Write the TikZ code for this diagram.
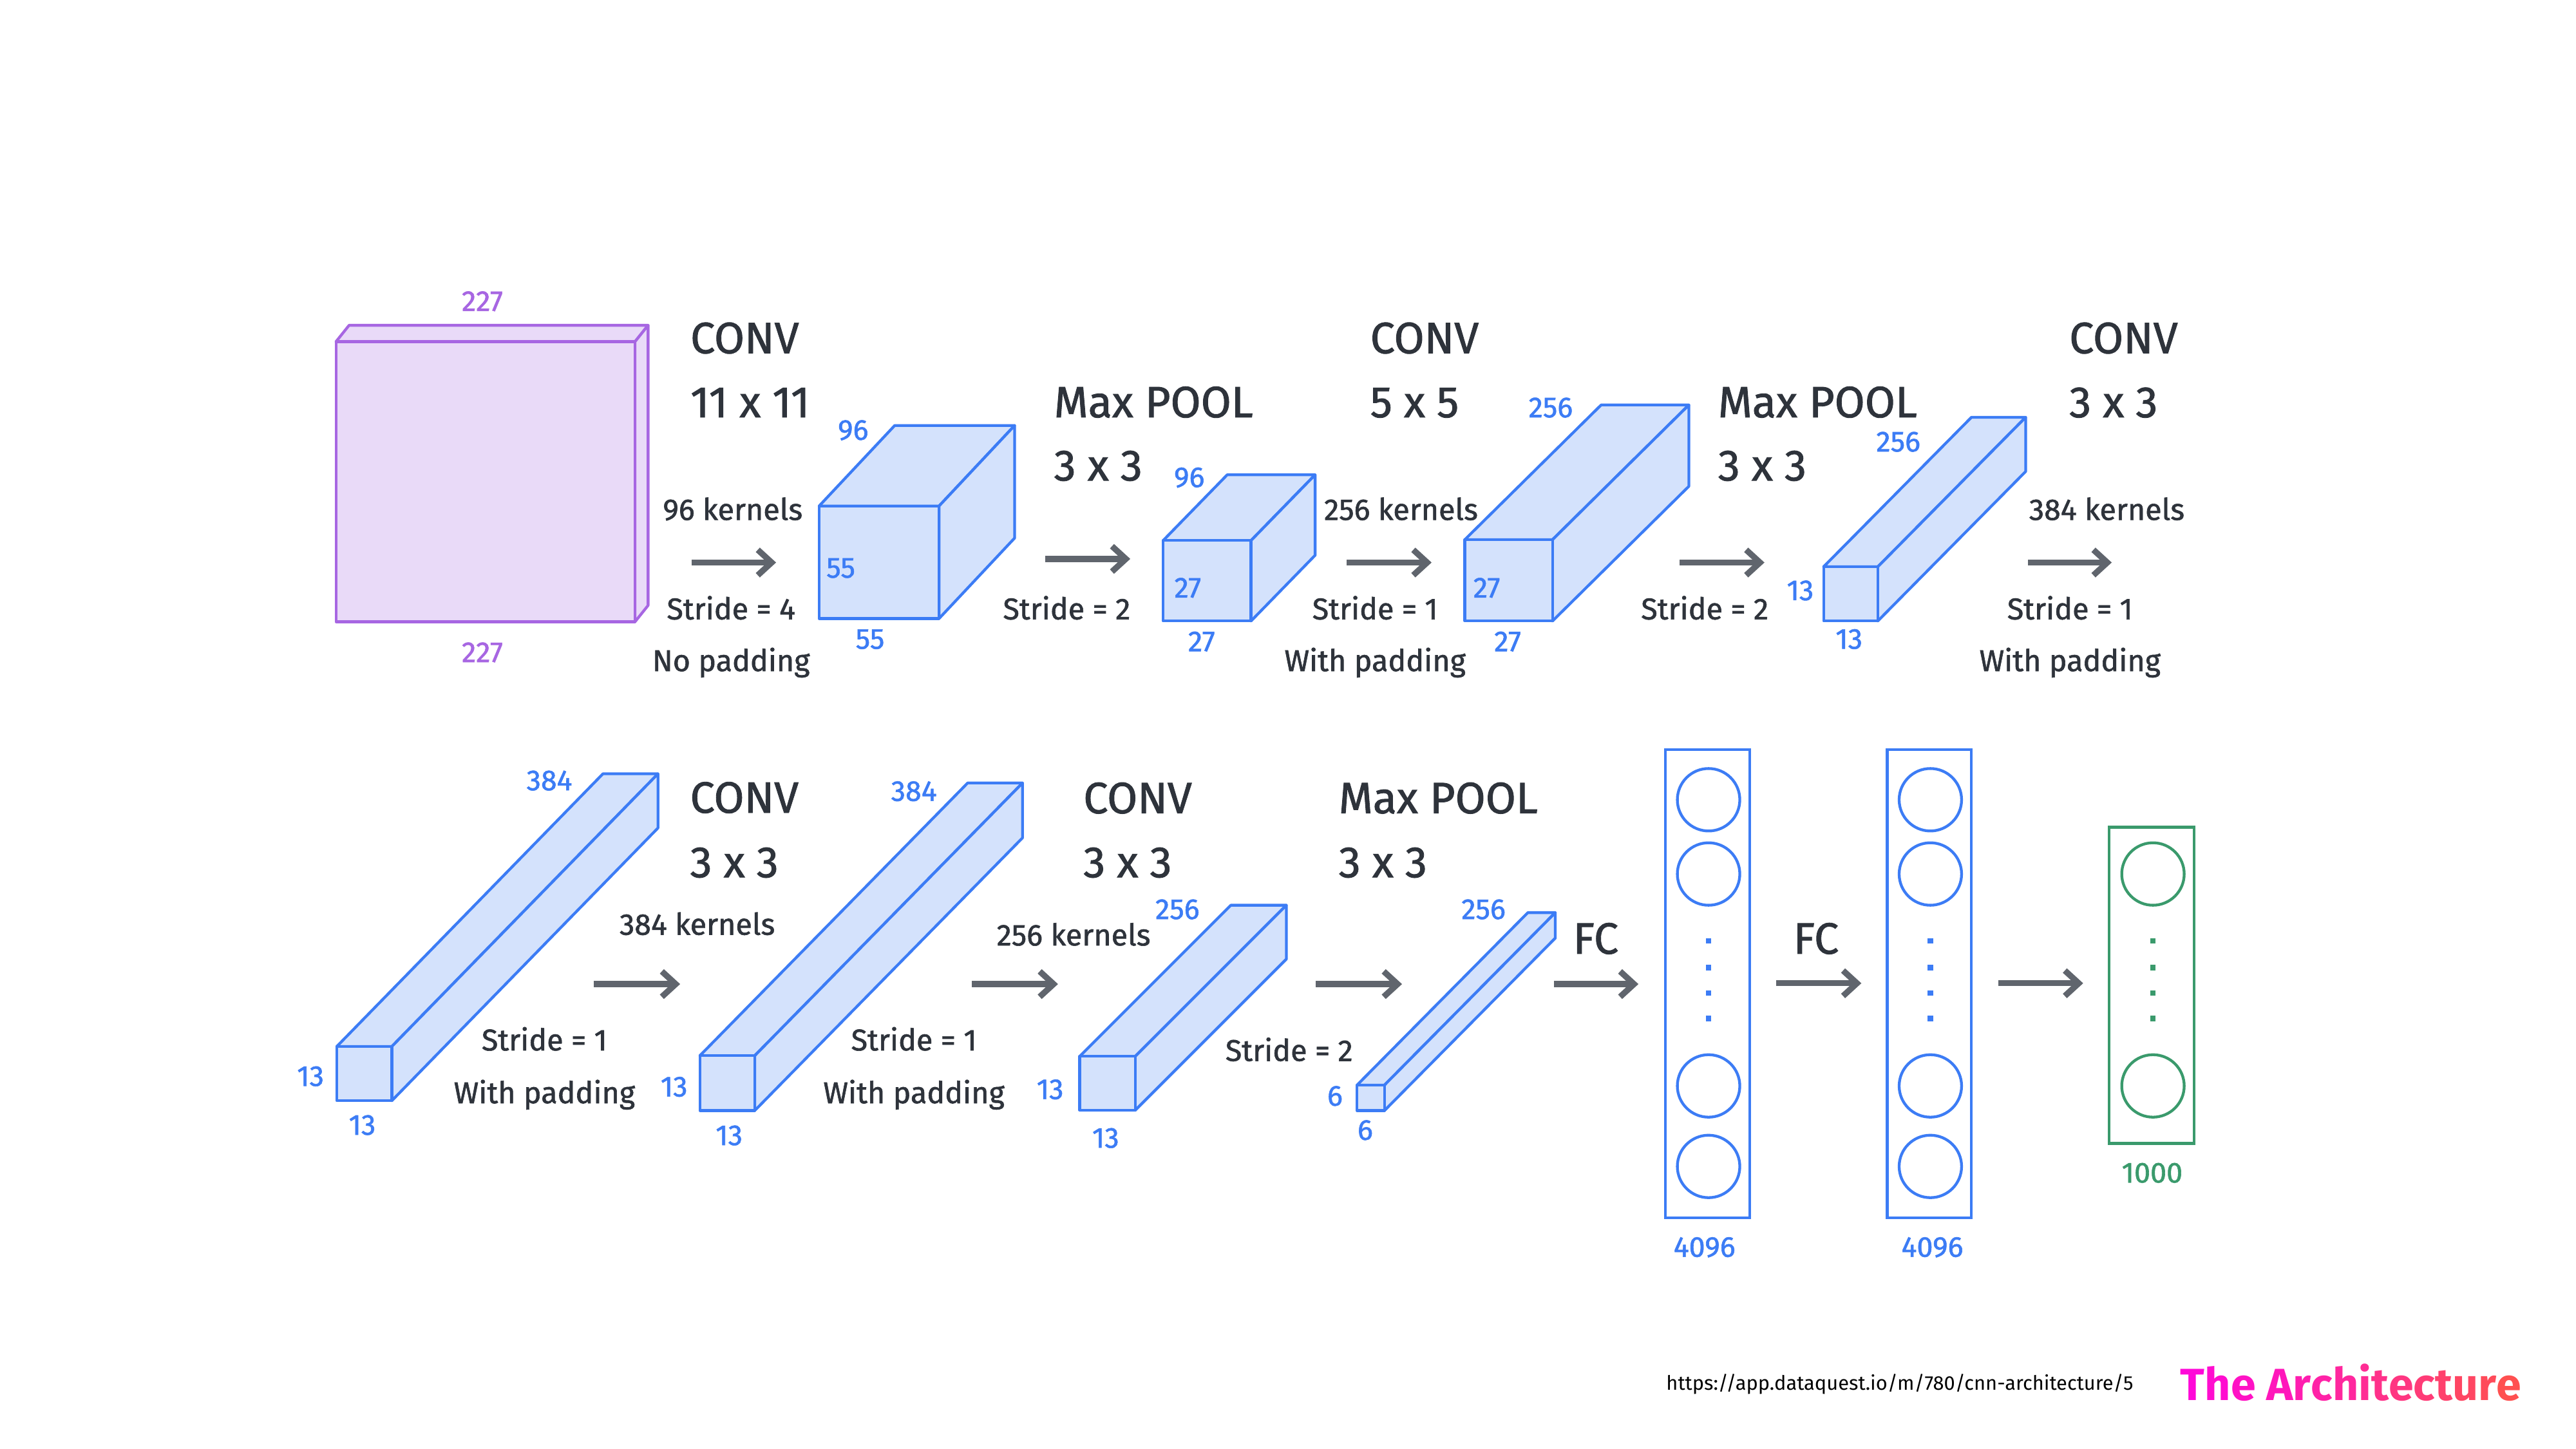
\documentclass[tikz,border=0pt]{standalone}
\usepackage{fontspec}
\setmainfont{Fira Sans}
\newfontfamily\semib{Fira Sans}[FakeBold=1.3]
\usepackage{graphicx}
\usetikzlibrary{arrows.meta}
\definecolor{txt}{HTML}{2E333B}
\definecolor{blu}{HTML}{3C7CF5}
\definecolor{bluf}{HTML}{D4E2FC}
\definecolor{pur}{HTML}{A766E2}
\definecolor{purf}{HTML}{E9DAF8}
\definecolor{grn}{HTML}{3A9A6C}
\definecolor{arrc}{HTML}{60656D}
\definecolor{gstart}{HTML}{FF08D8}
\definecolor{gend}{HTML}{FF5050}
\newcommand\drawcuboid[8]{%
  \filldraw[#8] (#1,#2) -- ++(#5,-#6) -- ++(#3,0) -- ++(-#5,#6) -- cycle;
  \filldraw[#8] (#1+#3,#2) -- ++(#5,-#6) -- ++(0,#4) -- ++(-#5,#6) -- cycle;
  \filldraw[#8] (#1,#2) rectangle ++(#3,#4);
  \coordinate (#7) at (#1,#2);}
\newcommand\gl[2]{\textcolor{gend!#1!gstart}{#2}}
\tikzset{
  cube/.style={draw=blu, fill=bluf, line width=1.2pt, line join=round},
  slab/.style={draw=pur, fill=purf, line width=1.2pt, line join=round},
  big/.style={font=\semib\fontsize{19}{22}\selectfont, text=txt, inner sep=0pt, anchor=base west},
  small/.style={font=\semib\fontsize{13}{15}\selectfont, text=txt, inner sep=0pt, anchor=base},
  num/.style={font=\semib\fontsize{12.5}{14}\selectfont, text=blu, inner sep=0pt, anchor=base},
  flow/.style={draw=arrc, line width=2.6pt, -{Straight Barb[length=6pt,width=11pt]}},
  fcbox/.style={draw=blu, line width=1.2pt, minimum width=1.28cm, minimum height=7.12cm, inner sep=0pt},
  outbox/.style={draw=grn, line width=1.2pt, minimum width=1.29cm, minimum height=4.81cm, inner sep=0pt},
  neuron/.style={circle, draw=blu, line width=1.2pt, minimum size=0.95cm, inner sep=0pt},
  oneuron/.style={circle, draw=grn, line width=1.2pt, minimum size=0.95cm, inner sep=0pt},
}
\begin{document}
\begin{tikzpicture}[x=0.025cm, y=-0.025cm]
\useasboundingbox[fill=white] (0,0) rectangle (1568,882);

% ---------- row 1 ----------
% input slab
\drawcuboid{204.5}{208}{182}{170.5}{8}{10}{in}{slab}
\node[num, text=pur] (in227t) at (293.6,189.3) {227};
\node[num, text=pur] (in227b) at (293.6,403) {227};

\node[big] (c1a) at (420,215) {CONV};
\node[big] (c1b) at (420,254) {11 x 11};
\node[small] (c1k) at (446,316.5) {96 kernels};
\node[small] (c1s) at (445,377) {Stride = 4};
\node[small] (c1p) at (445,408.5) {No padding};
\coordinate (a1s) at (421,342.4); \coordinate (a1e) at (472.4,342.4);
\draw[flow] (a1s) -- (a1e);

% cube 1
\drawcuboid{498.6}{308}{73}{68.5}{46}{49}{k1}{cube}
\node[num] (k1d) at (519.3,267.7) {96};
\node[num] (k1h) at (511.8,351.6) {55};
\node[num] (k1w) at (529.6,394.9) {55};

\node[big] (p1a) at (641.3,254) {Max POOL};
\node[big] (p1b) at (641.3,292.5) {3 x 3};
\node[small] (p1s) at (649.3,377) {Stride = 2};
\coordinate (a2s) at (636.3,340.2); \coordinate (a2e) at (688,340.2);
\draw[flow] (a2s) -- (a2e);

% cube 2
\drawcuboid{708}{329}{53.5}{49}{39}{40}{k2}{cube}
\node[num] (k2d) at (723.9,296.5) {96};
\node[num] (k2h) at (723,363.7) {27};
\node[num] (k2w) at (731.4,396.4) {27};

\node[big] (c2a) at (833.8,215) {CONV};
\node[big] (c2b) at (833.8,254) {5 x 5};
\node[small] (c2k) at (852.8,316.5) {256 kernels};
\node[small] (c2s) at (837,377) {Stride = 1};
\node[small] (c2p) at (837,408.5) {With padding};
\coordinate (a3s) at (819.7,342.4); \coordinate (a3e) at (871.4,342.4);
\draw[flow] (a3s) -- (a3e);

% cube 3
\drawcuboid{891.6}{328.5}{53.4}{49.5}{83}{82}{k3}{cube}
\node[num] (k3d) at (943.9,254) {256};
\node[num] (k3h) at (905,363.7) {27};
\node[num] (k3w) at (917.7,396.4) {27};

\node[big] (p2a) at (1045.5,254) {Max POOL};
\node[big] (p2b) at (1045.5,292.5) {3 x 3};
\node[small] (p2s) at (1037.7,377) {Stride = 2};
\coordinate (a4s) at (1022.4,342.4); \coordinate (a4e) at (1074,342.4);
\draw[flow] (a4s) -- (a4e);

% cube 4
\drawcuboid{1110}{345}{33}{33}{90}{91}{k4}{cube}
\node[num] (k4d) at (1155.5,274.8) {256};
\node[num] (k4h) at (1095.8,365.3) {13};
\node[num] (k4w) at (1125.5,394.9) {13};

\node[big] (c3a) at (1259.3,215) {CONV};
\node[big] (c3b) at (1259.3,254) {3 x 3};
\node[small] (c3k) at (1282.4,316.5) {384 kernels};
\node[small] (c3s) at (1260,377) {Stride = 1};
\node[small] (c3p) at (1260,408.5) {With padding};
\coordinate (a5s) at (1234.4,342.4); \coordinate (a5e) at (1285.4,342.4);
\draw[flow] (a5s) -- (a5e);

% ---------- row 2 ----------
% cube 5
\drawcuboid{205}{637}{33.5}{33}{162}{166}{k5}{cube}
\node[num] (k5d) at (334.4,481) {384};
\node[num] (k5h) at (189,661) {13};
\node[num] (k5w) at (220.5,690.7) {13};

\node[big] (c4a) at (419.8,494.7) {CONV};
\node[big] (c4b) at (419.8,534) {3 x 3};
\node[small] (c4k) at (424.4,569) {384 kernels};
\node[small] (c4s) at (331.4,639.4) {Stride = 1};
\node[small] (c4p) at (331.4,671.5) {With padding};
\coordinate (a6s) at (361.4,599); \coordinate (a6e) at (414,599);
\draw[flow] (a6s) -- (a6e);

% cube 6
\drawcuboid{426}{642.6}{33.4}{33.4}{163}{166}{k6}{cube}
\node[num] (k6d) at (556.3,487.5) {384};
\node[num] (k6h) at (410.3,667.4) {13};
\node[num] (k6w) at (443.8,697) {13};

\node[big] (c5a) at (659.2,495) {CONV};
\node[big] (c5b) at (659.2,534) {3 x 3};
\node[small] (c5k) at (653.5,575.5) {256 kernels};
\node[small] (c5s) at (556.3,639.4) {Stride = 1};
\node[small] (c5p) at (556.3,671.5) {With padding};
\coordinate (a7s) at (591.6,599); \coordinate (a7e) at (644,599);
\draw[flow] (a7s) -- (a7e);

% cube 7
\drawcuboid{657.2}{643}{33.8}{32.8}{92}{92}{k7}{cube}
\node[num] (k7d) at (716.7,559.4) {256};
\node[num] (k7h) at (639.2,669) {13};
\node[num] (k7w) at (673,698.6) {13};

\node[big] (p3a) at (814.6,495) {Max POOL};
\node[big] (p3b) at (814.6,534) {3 x 3};
\node[small] (p3s) at (784.7,645.8) {Stride = 2};
\coordinate (a8s) at (801,599); \coordinate (a8e) at (853.4,599);
\draw[flow] (a8s) -- (a8e);

% cube 8
\drawcuboid{826}{660.5}{16.7}{15.5}{104}{105}{k8}{cube}
\node[num] (k8d) at (903,559.4) {256};
\node[num] (k8h) at (812.6,673) {6};
\node[num] (k8w) at (831,693.8) {6};

\node[big] (fcl1) at (957.2,580.5) {FC};
\coordinate (a9s) at (946,599); \coordinate (a9e) at (997.3,599);
\draw[flow] (a9s) -- (a9e);

% FC layer 1
\node[fcbox] (fc1) at (1039.4,598.7) {};
\node[neuron] (fc1a) at (1040,486.8) {};
\node[neuron] (fc1b) at (1040,532) {};
\node[neuron] (fc1c) at (1040,661) {};
\node[neuron] (fc1d) at (1040,710) {};
\foreach \yy in {572.7,589,604.4,620} \fill[blu] (1040,\yy) +(-1.7,-1.7) rectangle +(1.7,1.7);
\node[num] (fc1n) at (1037.5,765) {4096};

\node[big] (fcl2) at (1091.3,580.5) {FC};
\coordinate (a10s) at (1081,598.5); \coordinate (a10e) at (1133,598.5);
\draw[flow] (a10s) -- (a10e);

% FC layer 2
\node[fcbox] (fc2) at (1174.4,598.7) {};
\node[neuron] (fc2a) at (1175,486.8) {};
\node[neuron] (fc2b) at (1175,532) {};
\node[neuron] (fc2c) at (1175,661) {};
\node[neuron] (fc2d) at (1175,710) {};
\foreach \yy in {572.7,589,604.4,620} \fill[blu] (1175,\yy) +(-1.7,-1.7) rectangle +(1.7,1.7);
\node[num] (fc2n) at (1176.2,765) {4096};

\coordinate (a11s) at (1216.3,598.5); \coordinate (a11e) at (1268,598.5);
\draw[flow] (a11s) -- (a11e);

% output layer
\node[outbox] (out) at (1309.7,599.8) {};
\node[oneuron] (outa) at (1310.5,532) {};
\node[oneuron] (outb) at (1310.5,661) {};
\foreach \yy in {572.7,589,604.4,620} \fill[grn] (1310.5,\yy) +(-1.7,-1.7) rectangle +(1.7,1.7);
\node[num, text=grn] (outn) at (1310,719.8) {1000};

% footer
\node[anchor=base west, inner sep=0pt, font=\fontsize{8.6}{10}\selectfont, text=black] (url) at (1014,846) {https://app.dataquest.io/m/780/cnn-architecture/5};
\node[anchor=base west, inner sep=0pt, font=\fontsize{19.5}{24}\selectfont\bfseries] (title) at (1327,852.5)
 {\gl{0}{T}\gl{7}{h}\gl{14}{e} \gl{21}{A}\gl{29}{r}\gl{36}{c}\gl{43}{h}\gl{50}{i}\gl{57}{t}\gl{64}{e}\gl{71}{c}\gl{79}{t}\gl{86}{u}\gl{93}{r}\gl{100}{e}};
\end{tikzpicture}
\end{document}
